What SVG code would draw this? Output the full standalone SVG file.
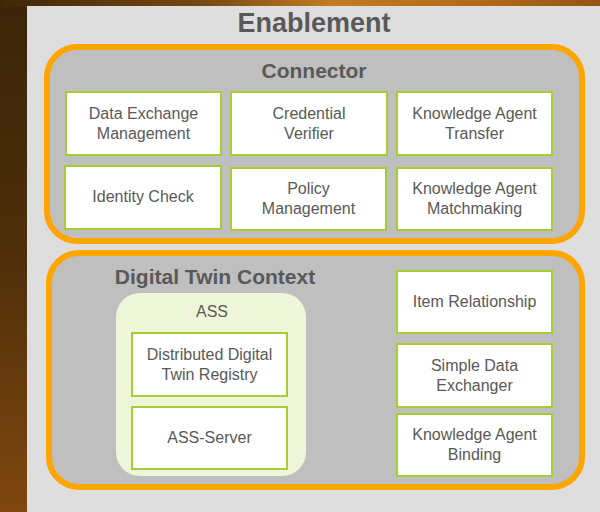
<svg xmlns="http://www.w3.org/2000/svg" width="600" height="512" viewBox="0 0 600 512">
<defs>
<linearGradient id="gLeft" x1="0" y1="0" x2="0" y2="1">
<stop offset="0" stop-color="#3a2508"/>
<stop offset="0.5" stop-color="#4e2f0a"/>
<stop offset="1" stop-color="#80470f"/>
</linearGradient>
<linearGradient id="gTop" x1="0" y1="0" x2="1" y2="0">
<stop offset="0" stop-color="#3e2708"/>
<stop offset="0.35" stop-color="#7a4a12"/>
<stop offset="0.55" stop-color="#c27c22"/>
<stop offset="0.8" stop-color="#b36a18"/>
<stop offset="1" stop-color="#955412"/>
</linearGradient>
<style>
.box{fill:#ffffff;stroke:#a8cc34;stroke-width:2}
.group{fill:#bfbfbf;stroke:#ffa500;stroke-width:6}
.t{font-family:"Liberation Sans",Arial,sans-serif;font-size:16px;fill:#595959;text-anchor:middle}
.h{font-family:"Liberation Sans",Arial,sans-serif;font-weight:bold;fill:#595959;text-anchor:middle}
</style>
</defs>
<rect x="0" y="0" width="600" height="512" fill="url(#gLeft)"/>
<rect x="0" y="0" width="600" height="7" fill="url(#gTop)"/>
<rect x="27" y="6" width="573" height="506" fill="#dedede"/>
<text class="h" x="314" y="32" font-size="27">Enablement</text>

<g id="connector">
<rect class="group" x="47" y="47" width="535" height="194" rx="30"/>
<text class="h" x="314" y="78" font-size="21">Connector</text>
</g>
<g id="data-exchange-management">
<rect class="box" x="66" y="92" width="155" height="63"/>
<text class="t" x="143.5" y="119">Data Exchange</text>
<text class="t" x="143.5" y="139">Management</text>
</g>
<g id="credential-verifier">
<rect class="box" x="231" y="92" width="156" height="63"/>
<text class="t" x="309" y="119">Credential</text>
<text class="t" x="309" y="139">Verifier</text>
</g>
<g id="knowledge-agent-transfer">
<rect class="box" x="397" y="92" width="155" height="63"/>
<text class="t" x="474.5" y="119">Knowledge Agent</text>
<text class="t" x="474.5" y="139">Transfer</text>
</g>
<g id="identity-check">
<rect class="box" x="65" y="166" width="156" height="63"/>
<text class="t" x="143" y="202">Identity Check</text>
</g>
<g id="policy-management">
<rect class="box" x="231" y="168" width="155" height="62"/>
<text class="t" x="308.5" y="194">Policy</text>
<text class="t" x="308.5" y="214">Management</text>
</g>
<g id="knowledge-agent-matchmaking">
<rect class="box" x="397" y="168" width="155" height="62"/>
<text class="t" x="474.5" y="194">Knowledge Agent</text>
<text class="t" x="474.5" y="214">Matchmaking</text>
</g>

<g id="digital-twin-context">
<rect class="group" x="49" y="253" width="533" height="234" rx="30"/>
<text class="h" x="215" y="284" font-size="21">Digital Twin Context</text>
</g>
<g id="ass">
<rect x="116" y="293" width="190" height="183" rx="24" fill="#eff5d8"/>
<text class="t" x="212" y="317">ASS</text>
</g>
<g id="distributed-digital-twin-registry">
<rect class="box" x="132" y="333" width="155" height="63"/>
<text class="t" x="209.5" y="360">Distributed Digital</text>
<text class="t" x="209.5" y="380">Twin Registry</text>
</g>
<g id="ass-server">
<rect class="box" x="132" y="407" width="155" height="62"/>
<text class="t" x="209.5" y="443">ASS-Server</text>
</g>
<g id="item-relationship">
<rect class="box" x="397" y="271" width="155" height="62"/>
<text class="t" x="474.5" y="307">Item Relationship</text>
</g>
<g id="simple-data-exchanger">
<rect class="box" x="397" y="344" width="155" height="63"/>
<text class="t" x="474.5" y="371">Simple Data</text>
<text class="t" x="474.5" y="391">Exchanger</text>
</g>
<g id="knowledge-agent-binding">
<rect class="box" x="397" y="414" width="155" height="62"/>
<text class="t" x="474.5" y="440">Knowledge Agent</text>
<text class="t" x="474.5" y="460">Binding</text>
</g>
<g id="connectors"/>
</svg>
